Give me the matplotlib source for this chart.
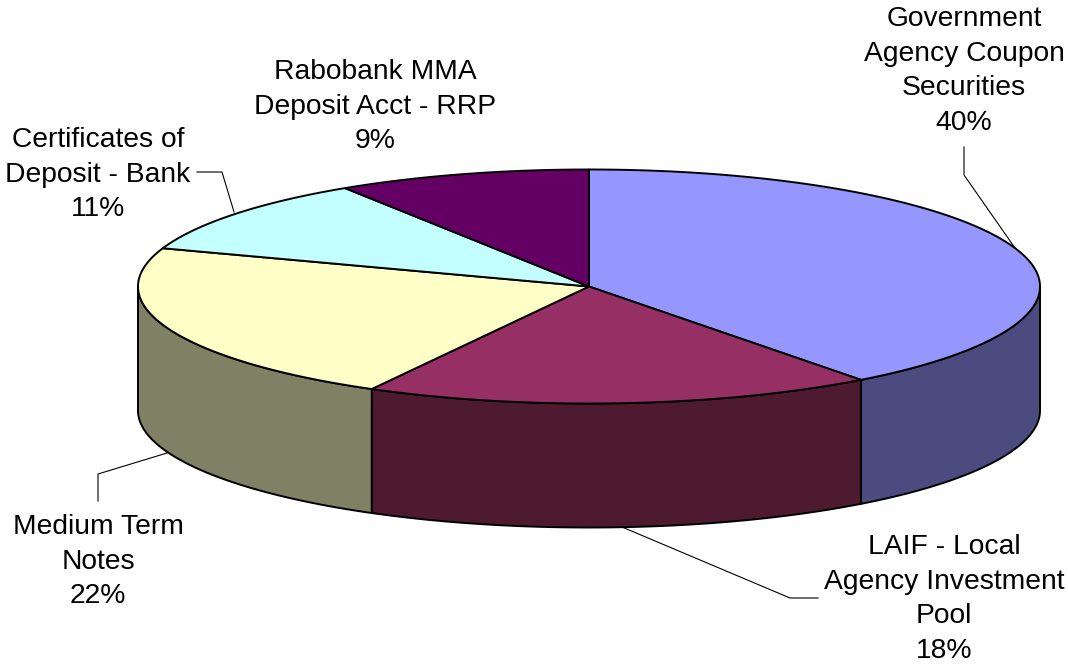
import numpy as np
import matplotlib
matplotlib.use("Agg")
import matplotlib.pyplot as plt

plt.rcParams['font.family'] = ['Liberation Sans', 'DejaVu Sans']

# values go clockwise from 12 o'clock, labels show them rounded
categories = ["Government\nAgency Coupon\nSecurities", "LAIF - Local\nAgency Investment\nPool",
              "Medium Term\nNotes", "Certificates of\nDeposit - Bank", "Rabobank MMA\nDeposit Acct - RRP"]
shares = [39.7, 18.3, 22.3, 10.6, 9.1]
top_colors = ["#9696FF", "#963064", "#FFFFC8", "#C4FFFF", "#640064"]
side_colors = ["#4B4B80", "#4E1A30", "#808064", "#628080", "#320032"]

# label centre (x, top y) in pixels and leader line points
label_pos = [(964, 6), (944, 534), (98, 514), (98, 127), (375, 59)]
leaders = [
    [(964, 147), (964, 175), (1015, 248)],
    [(622, 527), (790, 598), (818, 598)],
    [(98, 501), (98, 474), (167, 453)],
    [(197, 172), (222, 172), (234, 212)],
    None,
]

# pie geometry in pixels
cx, cy = 589, 286.5
rx, ry = 451, 117
depth = 124


def arc(t0, t1, dy=0):
    # points on the ellipse, angle in degrees clockwise from the top
    t = np.radians(np.linspace(t0, t1, 200))
    return np.column_stack([cx + rx * np.sin(t), cy - ry * np.cos(t) + dy])


fig = plt.figure(figsize=(10.68, 6.67), dpi=100)
ax = fig.add_axes([0, 0, 1, 1])
ax.set_xlim(0, 1068)
ax.set_ylim(667, 0)
ax.axis("off")

edges = np.cumsum([0] + shares) * 3.6

# side walls, only the front half of the ellipse shows
for i in range(len(shares)):
    t0, t1 = max(edges[i], 90), min(edges[i + 1], 270)
    if t0 >= t1:
        continue
    pts = np.vstack([arc(t0, t1), arc(t0, t1, depth)[::-1]])
    ax.fill(pts[:, 0], pts[:, 1], fc=side_colors[i], ec="black", lw=1.4, joinstyle="round")

# top face
for i in range(len(shares)):
    pts = np.vstack([[(cx, cy)], arc(edges[i], edges[i + 1])])
    ax.fill(pts[:, 0], pts[:, 1], fc=top_colors[i], ec="black", lw=1.4, joinstyle="round")

# leader lines and labels
for i in range(len(shares)):
    if leaders[i] is not None:
        xs, ys = zip(*leaders[i])
        ax.plot(xs, ys, color="black", lw=0.8)
    ax.text(label_pos[i][0], label_pos[i][1], f"{categories[i]}\n{round(shares[i])}%",
            ha="center", va="top", fontsize=20.3, linespacing=1.43, color="black")

fig.savefig("out.png", dpi=100)
